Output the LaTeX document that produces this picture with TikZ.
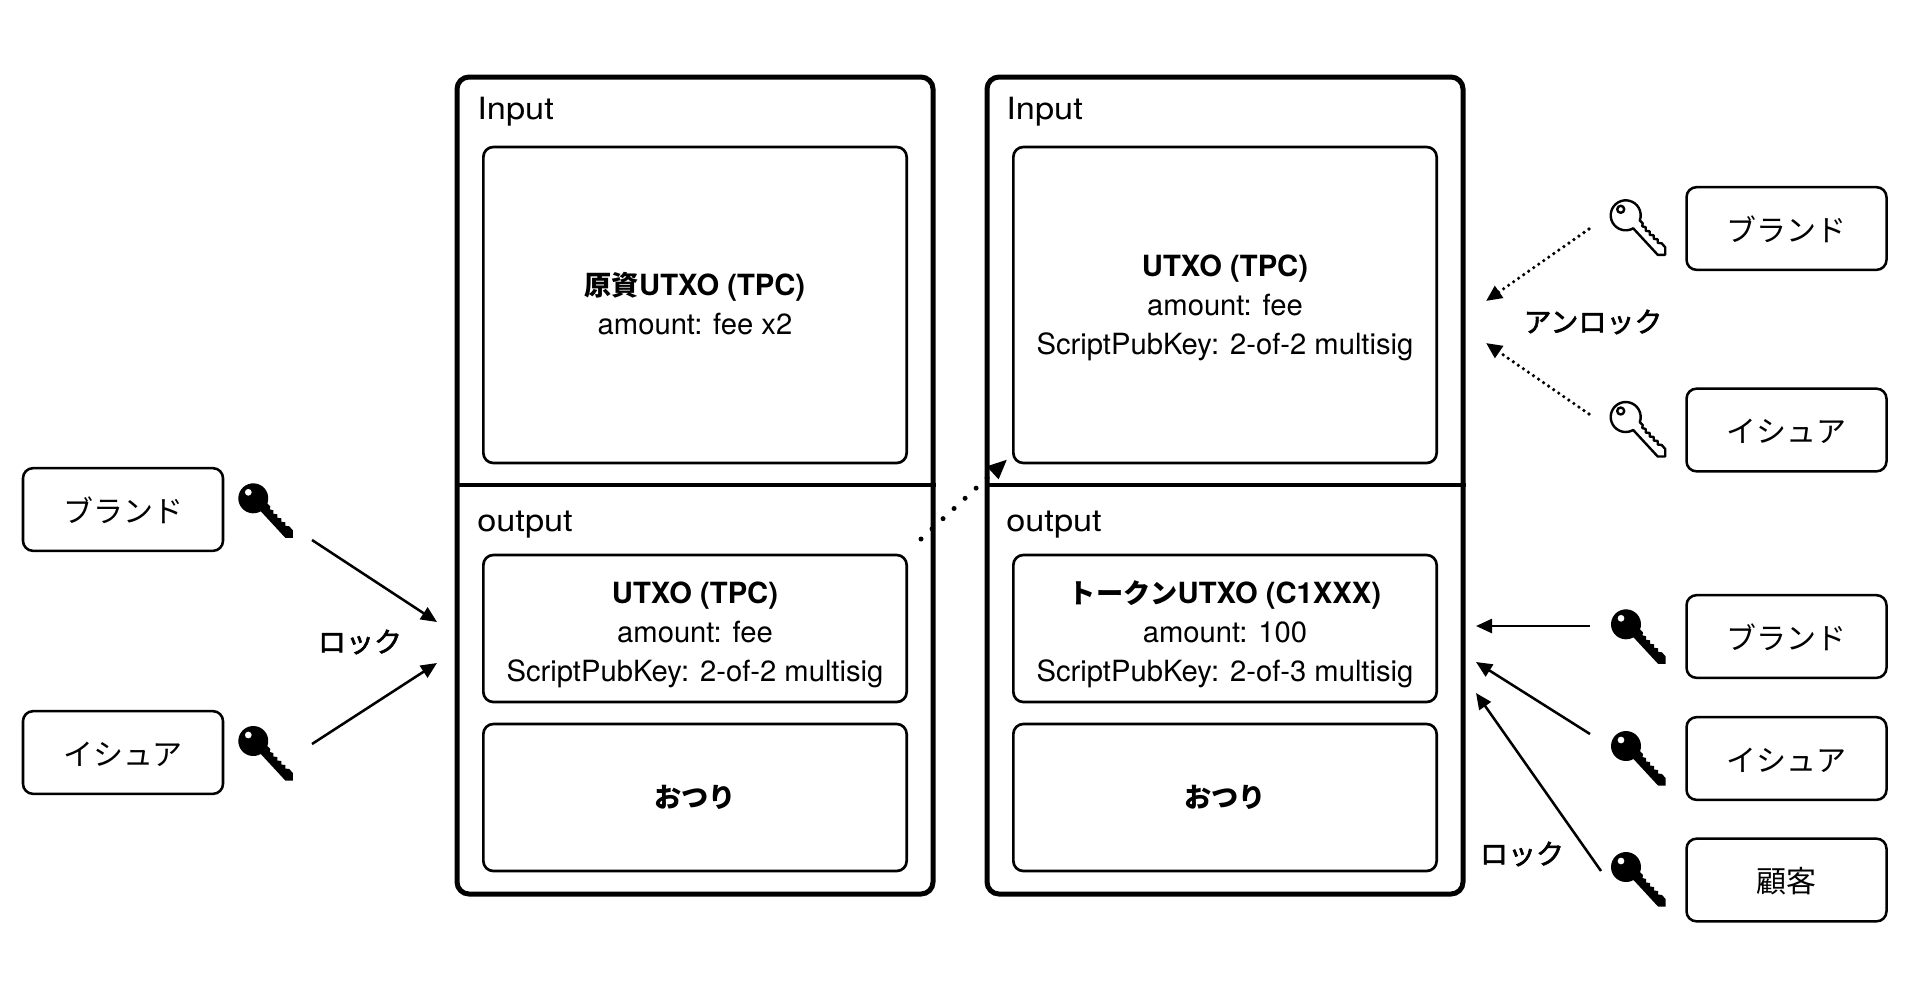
\documentclass[tikz,border=0pt]{standalone}
\usepackage{fontspec}
\setmainfont{TeX Gyre Heros}
\newfontfamily\titlefont[FakeStretch=1.12]{TeX Gyre Heros}
\newfontfamily\jpfont{Noto Sans CJK JP}
\newfontfamily\jpmed[FakeBold=2]{Noto Sans CJK JP}
\newcommand{\jphead}[1]{{\fontsize{20.4}{29.25}\selectfont\jpfont\bfseries #1}}
\usetikzlibrary{arrows.meta}
\tikzset{
  outerbox/.style={draw,line width=3.75pt,rounded corners=9pt,minimum width=357pt,minimum height=612.75pt},
  innerbox/.style={draw,line width=2pt,rounded corners=7.5pt,minimum width=317.5pt,align=center,inner sep=0pt,font=\fontsize{21.9}{29.25}\selectfont},
  ownerbox/.style={draw,line width=1.9pt,rounded corners=7.5pt,minimum width=150pt,minimum height=62pt,inner sep=0pt,text height=21.7pt,text depth=2.8pt,font=\fontsize{22.5}{29.25}\selectfont\jpfont},
  boxtitle/.style={anchor=base west,inner sep=0pt,font=\fontsize{23}{29.25}\selectfont\titlefont},
  locklabel/.style={inner sep=0pt,font=\fontsize{21}{29.25}\selectfont\jpmed},
  divider/.style={line width=2.4pt},
  lockarrow/.style={line width=1.9pt,-{Triangle[length=12pt,width=10.5pt]}},
  unlockarrow/.style={line width=2.7pt,line cap=round,dash pattern=on 0pt off 4.6pt,-{Triangle[length=12pt,width=10.5pt]}},
  spendarrow/.style={line width=3.75pt,line cap=round,dash pattern=on 0pt off 11.25pt,-{Triangle[length=15pt,width=12pt]}},
  keysolid/.style={fill=black},
  keyline/.style={draw=black,line width=1.8pt,line join=round},
  keyicon/.pic={
    \path[pic actions,even odd rule] (-5,-6) circle (3.5)
      (7.5,13) arc[start angle=60,end angle=380,radius=15]
      -- (17,8) -- (16.5,11) -- (20,12) -- (20,15.5) -- (24,16) -- (24,19.5) -- (28,20) -- (28,23.5)
      -- (32,24) -- (32,27.5) -- (36,28) -- (39.5,32) -- (39.5,39.5) -- (32,39.5) -- cycle;
  }
}
\begin{document}
\begin{tikzpicture}[x=0.75pt,y=-0.75pt]
  \useasboundingbox (0,0) rectangle (1920,1004);
  % transaction frames
  \draw (695,485.5)  node[outerbox] (txa) {};
  \draw (1225,485.5) node[outerbox] (txb) {};
  \coordinate (diva) at (457,485);
  \coordinate (divb) at (987,485);
  \draw[divider] (diva) -- (txa.east |- diva);
  \draw[divider] (divb) -- (txb.east |- divb);
  \node[boxtitle] (ina)  at (477,119)  {Input};
  \node[boxtitle] (inb)  at (1006,119) {Input};
  \node[boxtitle] (outa) at (477,531)  {output};
  \node[boxtitle] (outb) at (1006,531) {output};
  % inner boxes
  \draw (695,305)    node[innerbox,minimum height=237pt,text height=45pt,text depth=1.5pt] (fund) {\textbf{\jphead{原資}UTXO (TPC)}\\amount: fee x2};
  \draw (1225,305)   node[innerbox,minimum height=237pt,text height=75pt,text depth=1.5pt] (utxob) {\textbf{UTXO (TPC)}\\amount: fee\\ScriptPubKey: 2-of-2 multisig};
  \draw (695,628.5)  node[innerbox,minimum height=110.25pt,text height=80pt,text depth=1.25pt] (utxoa) {\textbf{UTXO (TPC)}\\amount: fee\\ScriptPubKey: 2-of-2 multisig};
  \draw (1225,628.5) node[innerbox,minimum height=110.25pt,text height=80pt,text depth=1.25pt] (token) {\textbf{\jphead{トークン}UTXO (C1XXX)}\\amount: 100\\ScriptPubKey: 2-of-3 multisig};
  \draw (695,797.5)  node[innerbox,minimum height=110.25pt] (changea) {\jphead{おつり}};
  \draw (1225,797.5) node[innerbox,minimum height=110.25pt] (changeb) {\jphead{おつり}};
  % key holders
  \draw (123,509.5)    node[ownerbox] (brandl) {ブランド};
  \draw (123,752.5)    node[ownerbox] (issuerl) {イシュア};
  \draw (1786.5,228.5) node[ownerbox] (brandu) {ブランド};
  \draw (1786.5,430)   node[ownerbox] (issueru) {イシュア};
  \draw (1786.5,636.5) node[ownerbox] (brandr) {ブランド};
  \draw (1786.5,758.5) node[ownerbox] (issuerr) {イシュア};
  \draw (1786.5,880)   node[ownerbox] (client) {顧客};
  % keys
  \pic[keysolid] at (253.3,498.3) {keyicon};
  \pic[keysolid] at (253.3,741)   {keyicon};
  \pic[keyline]  at (1625.7,215.3) {keyicon};
  \pic[keyline]  at (1625.7,417)   {keyicon};
  \pic[keysolid] at (1626,624.3) {keyicon};
  \pic[keysolid] at (1626,746)   {keyicon};
  \pic[keysolid] at (1626,867)   {keyicon};
  % labels
  \node[locklabel] (lockl) at (360,642) {ロック};
  \node[locklabel] (lockr) at (1522,854) {ロック};
  \node[locklabel] (unlock) at (1593,322) {アンロック};
  % arrow ends
  \coordinate (la1) at (312,540);  \coordinate (la2) at (437,622);
  \coordinate (lb1) at (312,744);  \coordinate (lb2) at (437,663);
  \coordinate (ua1) at (1589,229); \coordinate (ua2) at (1486,301);
  \coordinate (ub1) at (1589,414); \coordinate (ub2) at (1486,343);
  \coordinate (ra1) at (1590,626); \coordinate (ra2) at (1476,626);
  \coordinate (rb1) at (1590,734); \coordinate (rb2) at (1476,662);
  \coordinate (rc1) at (1601,871); \coordinate (rc2) at (1476,693);
  \coordinate (sp1) at (921,539);  \coordinate (sp2) at (1007.3,459.3);
  \draw[lockarrow] (la1) -- (la2);
  \draw[lockarrow] (lb1) -- (lb2);
  \draw[unlockarrow] (ua1) -- (ua2);
  \draw[unlockarrow] (ub1) -- (ub2);
  \draw[lockarrow] (ra1) -- (ra2);
  \draw[lockarrow] (rb1) -- (rb2);
  \draw[lockarrow] (rc1) -- (rc2);
  \draw[spendarrow] (sp1) -- (sp2);
\end{tikzpicture}
\end{document}
